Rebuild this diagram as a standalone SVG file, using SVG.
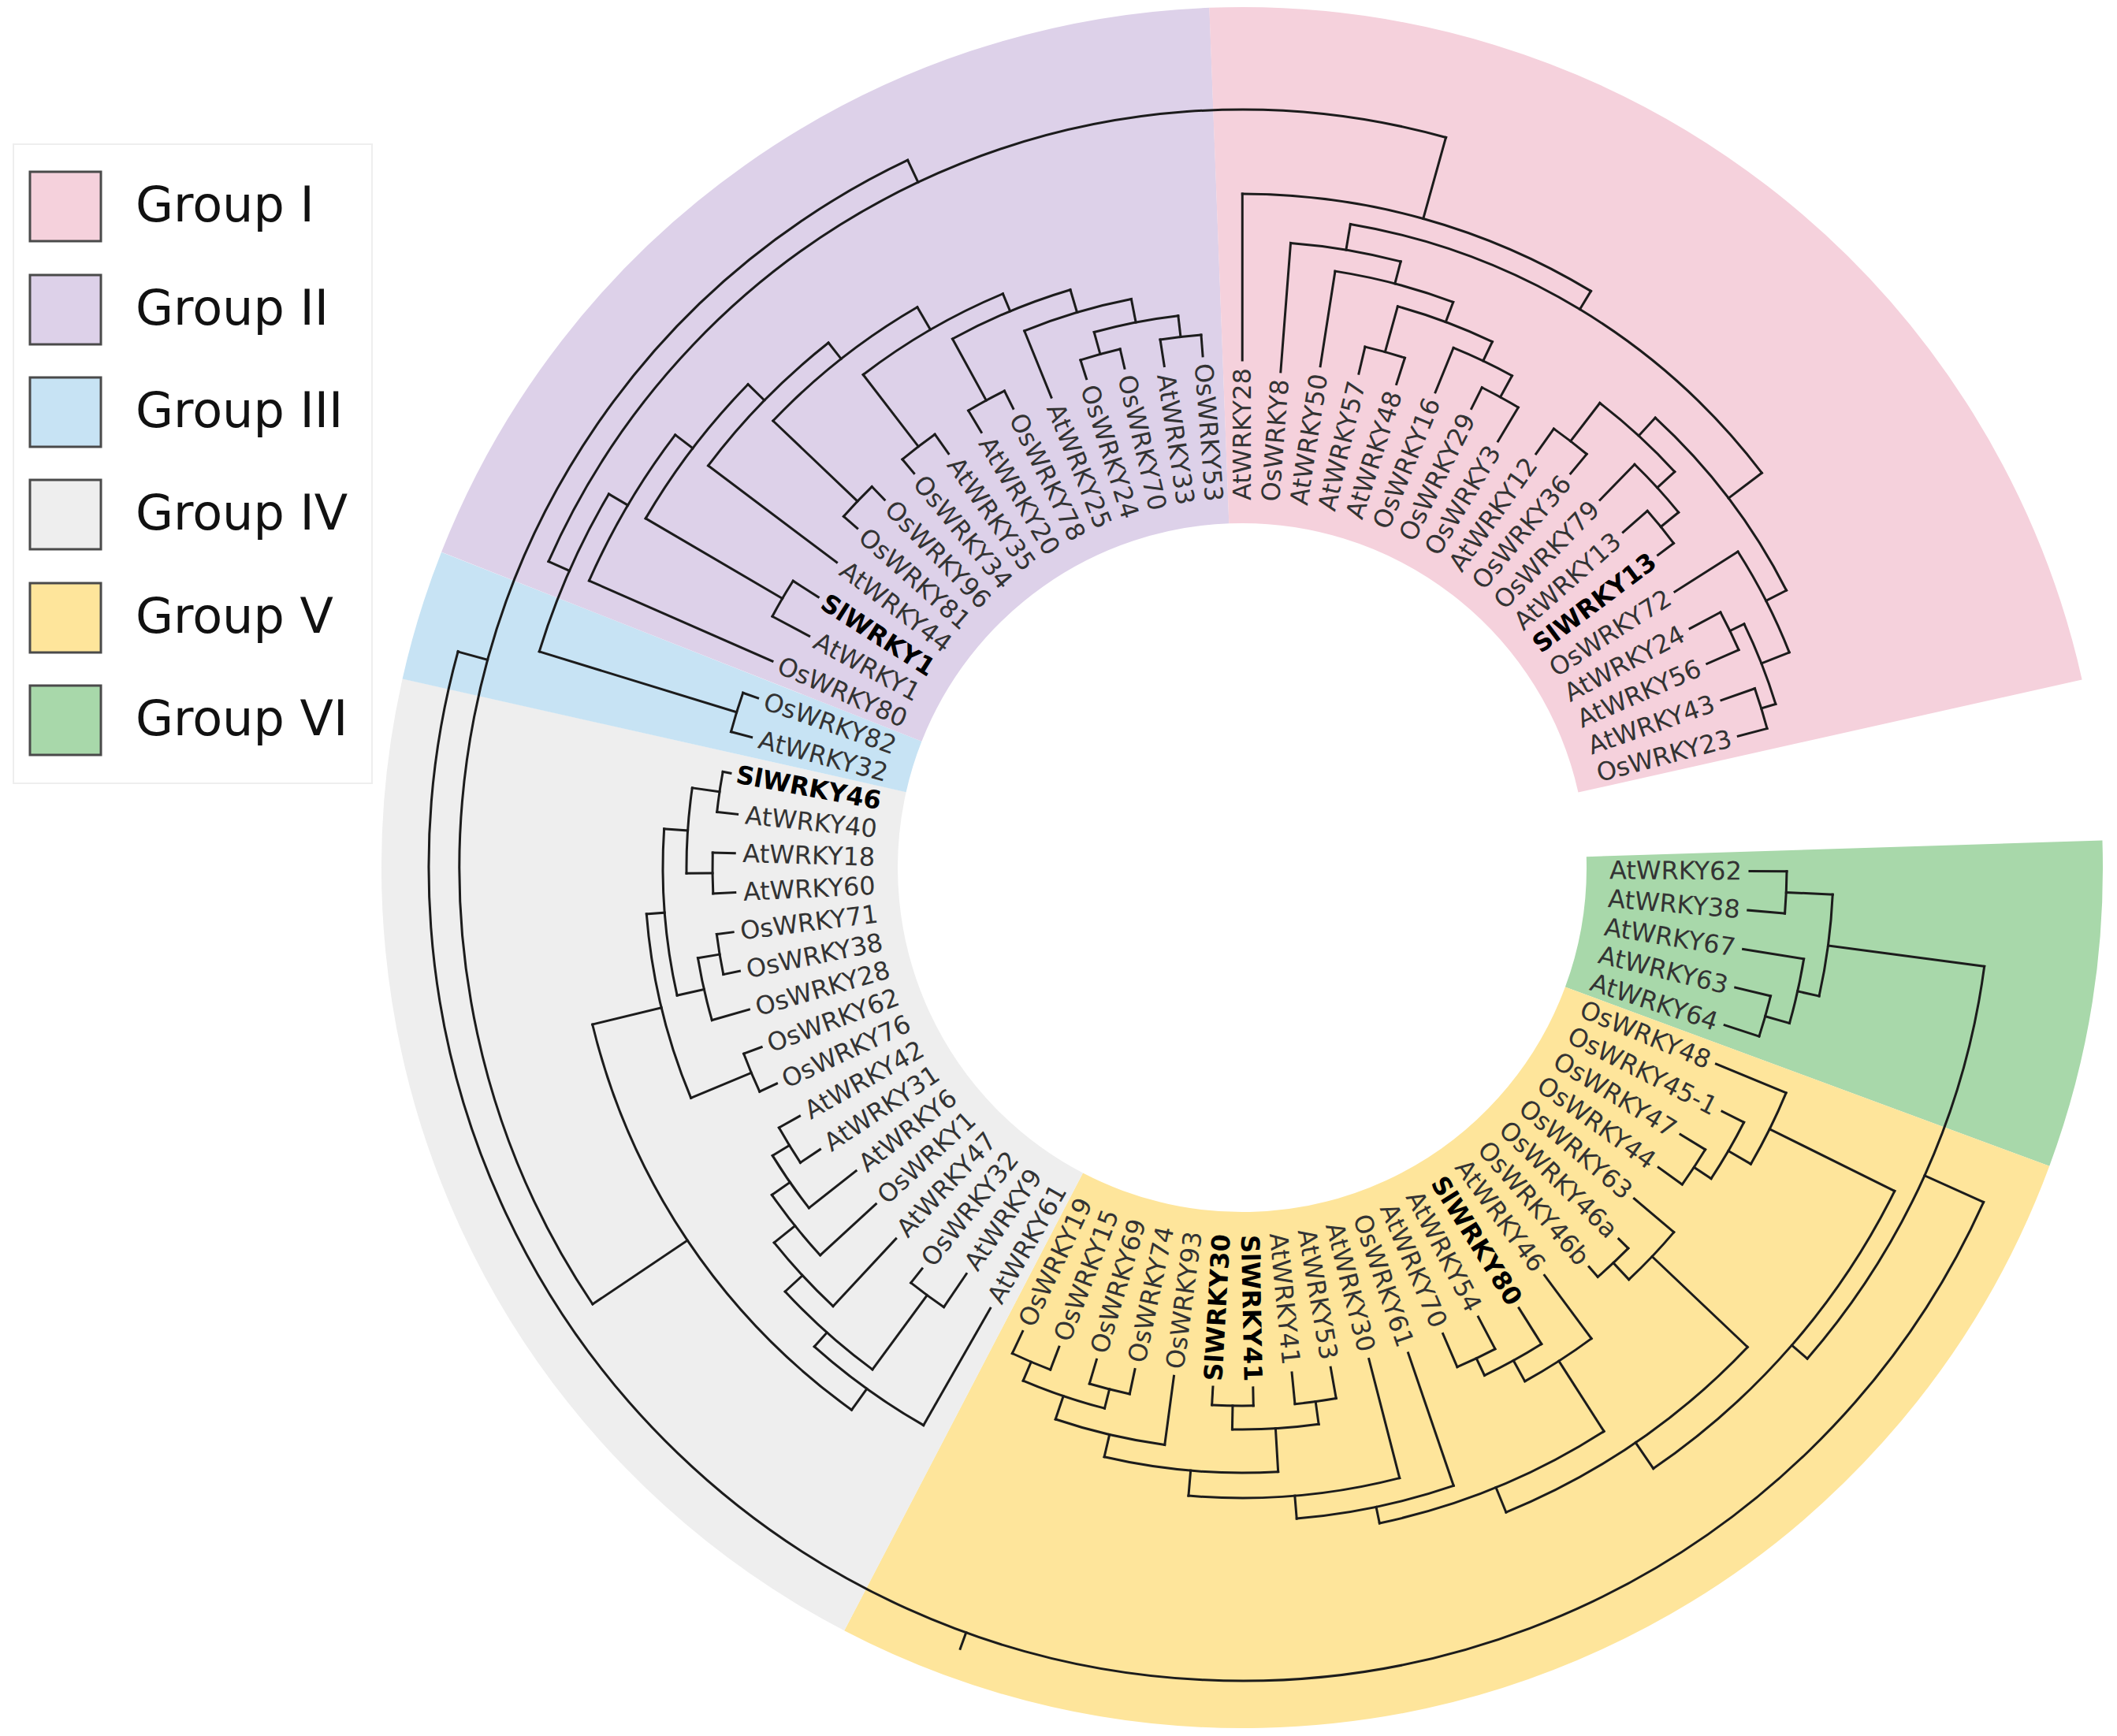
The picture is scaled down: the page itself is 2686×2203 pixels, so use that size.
<svg xmlns="http://www.w3.org/2000/svg" width="2686" height="2203" viewBox="0 0 2686 2203">
<style>
.lab text{font-family:"DejaVu Sans","Liberation Sans",sans-serif;font-size:32px;fill:#333;dominant-baseline:central}
.lab .f{text-anchor:end}
.lab .b{font-weight:bold;fill:#000}
.wedge circle{fill:none;stroke-width:655}
#connectors{fill:none;stroke:#1c1c1c;stroke-width:3;stroke-linecap:square}
.leg text{font-family:"DejaVu Sans","Liberation Sans",sans-serif;font-size:62px;fill:#111}
.leg rect.sw{stroke:#4a4a4a;stroke-width:3}
</style>
<rect width="2686" height="2203" fill="#fff"/>
<g class="wedge" id="groups" transform="translate(1576 1101)">
<circle r="764.5" stroke="#A8D8AA" transform="rotate(-1.81)" stroke-dasharray="294.88 9999"/>
<circle r="764.5" stroke="#FEE59B" transform="rotate(20.29)" stroke-dasharray="1297.48 9999"/>
<circle r="764.5" stroke="#EEEEEE" transform="rotate(117.53)" stroke-dasharray="1002.6 9999"/>
<circle r="764.5" stroke="#C7E3F4" transform="rotate(192.67)" stroke-dasharray="117.95 9999"/>
<circle r="764.5" stroke="#DDD1E9" transform="rotate(201.51)" stroke-dasharray="884.65 9999"/>
<circle r="764.5" stroke="#F5D1DC" transform="rotate(267.81)" stroke-dasharray="1061.58 9999"/>
</g>
<g id="connectors" transform="translate(1576 1101)">
<path transform="rotate(90.4)" d="M0-644V-691"/>
<path transform="rotate(94.82)" d="M0-644V-691"/>
<path transform="rotate(99.24)" d="M0-644V-722"/>
<path transform="rotate(103.66)" d="M0-644V-690"/>
<path transform="rotate(108.08)" d="M0-644V-690"/>
<path transform="rotate(112.5)" d="M0-651V-747"/>
<path transform="rotate(116.92)" d="M0-683V-714"/>
<path transform="rotate(121.34)" d="M0-651V-688"/>
<path transform="rotate(125.76)" d="M0-651V-688"/>
<path transform="rotate(130.18)" d="M0-651V-717"/>
<path transform="rotate(134.6)" d="M0-671V-688"/>
<path transform="rotate(139.02)" d="M0-671V-688"/>
<path transform="rotate(143.44)" d="M0-644V-744"/>
<path transform="rotate(147.86)" d="M0-660V-714"/>
<path transform="rotate(152.28)" d="M0-644V-690"/>
<path transform="rotate(156.7)" d="M0-644V-690"/>
<path transform="rotate(161.12)" d="M0-651V-829"/>
<path transform="rotate(165.54)" d="M0-644V-800"/>
<path transform="rotate(169.96)" d="M0-644V-684"/>
<path transform="rotate(174.38)" d="M0-644V-684"/>
<path transform="rotate(178.8)" d="M0-660V-683"/>
<path transform="rotate(183.22)" d="M0-660V-683"/>
<path transform="rotate(187.64)" d="M0-651V-739"/>
<path transform="rotate(192.06)" d="M0-651V-683"/>
<path transform="rotate(196.48)" d="M0-651V-683"/>
<path transform="rotate(200.9)" d="M0-651V-682"/>
<path transform="rotate(205.32)" d="M0-651V-682"/>
<path transform="rotate(209.74)" d="M0-644V-815"/>
<path transform="rotate(214.16)" d="M0-623V-674"/>
<path transform="rotate(218.58)" d="M0-651V-674"/>
<path transform="rotate(223)" d="M0-644V-761"/>
<path transform="rotate(227.42)" d="M0-631V-727"/>
<path transform="rotate(231.84)" d="M0-623V-699"/>
<path transform="rotate(236.26)" d="M0-644V-674"/>
<path transform="rotate(240.68)" d="M0-644V-674"/>
<path transform="rotate(245.1)" d="M0-651V-675"/>
<path transform="rotate(249.52)" d="M0-651V-675"/>
<path transform="rotate(253.94)" d="M0-651V-700"/>
<path transform="rotate(258.36)" d="M0-651V-672"/>
<path transform="rotate(262.78)" d="M0-651V-672"/>
<path transform="rotate(267.2)" d="M0-644V-672"/>
<path transform="rotate(271.62)" d="M0-644V-672"/>
<path transform="rotate(276.04)" d="M0-644V-670"/>
<path transform="rotate(280.46)" d="M0-660V-670"/>
<path transform="rotate(284.88)" d="M0-644V-671"/>
<path transform="rotate(289.3)" d="M0-651V-671"/>
<path transform="rotate(293.72)" d="M0-651V-905"/>
<path transform="rotate(298.14)" d="M0-623V-676"/>
<path transform="rotate(302.56)" d="M0-638V-676"/>
<path transform="rotate(306.98)" d="M0-644V-848"/>
<path transform="rotate(311.4)" d="M0-651V-674"/>
<path transform="rotate(315.82)" d="M0-651V-674"/>
<path transform="rotate(320.24)" d="M0-651V-674"/>
<path transform="rotate(324.66)" d="M0-644V-674"/>
<path transform="rotate(329.08)" d="M0-644V-676"/>
<path transform="rotate(333.5)" d="M0-651V-676"/>
<path transform="rotate(337.92)" d="M0-644V-735"/>
<path transform="rotate(342.34)" d="M0-651V-676"/>
<path transform="rotate(346.76)" d="M0-651V-676"/>
<path transform="rotate(351.18)" d="M0-644V-678"/>
<path transform="rotate(355.6)" d="M0-651V-678"/>
<path transform="rotate(0.02)" d="M0-644V-855"/>
<path transform="rotate(4.44)" d="M0-631V-795"/>
<path transform="rotate(8.86)" d="M0-644V-766"/>
<path transform="rotate(13.28)" d="M0-644V-679"/>
<path transform="rotate(17.7)" d="M0-644V-679"/>
<path transform="rotate(22.12)" d="M0-651V-712"/>
<path transform="rotate(26.54)" d="M0-651V-681"/>
<path transform="rotate(30.96)" d="M0-631V-681"/>
<path transform="rotate(35.38)" d="M0-644V-683"/>
<path transform="rotate(39.8)" d="M0-651V-683"/>
<path transform="rotate(44.22)" d="M0-651V-714"/>
<path transform="rotate(48.64)" d="M0-644V-685"/>
<path transform="rotate(53.06)" d="M0-660V-685"/>
<path transform="rotate(57.48)" d="M0-651V-746"/>
<path transform="rotate(61.9)" d="M0-644V-688"/>
<path transform="rotate(66.32)" d="M0-644V-688"/>
<path transform="rotate(70.74)" d="M0-644V-689"/>
<path transform="rotate(75.16)" d="M0-651V-689"/>
<circle r="691" transform="rotate(0.4)" stroke-dasharray="53.31 9999"/>
<circle r="690" transform="rotate(13.66)" stroke-dasharray="53.23 9999"/>
<circle r="722" transform="rotate(9.24)" stroke-dasharray="83.55 9999"/>
<circle r="750" transform="rotate(2.61)" stroke-dasharray="130.18 9999"/>
<path transform="rotate(92.61)" d="M0-691V-750"/>
<path transform="rotate(105.87)" d="M0-690V-722"/>
<path transform="rotate(102.555)" d="M0-722V-750"/>
<path transform="rotate(97.58)" d="M0-750V-950"/>
<circle r="688" transform="rotate(31.34)" stroke-dasharray="53.08 9999"/>
<circle r="714" transform="rotate(26.92)" stroke-dasharray="82.62 9999"/>
<circle r="747" transform="rotate(22.5)" stroke-dasharray="100.85 9999"/>
<circle r="688" transform="rotate(44.6)" stroke-dasharray="53.08 9999"/>
<circle r="717" transform="rotate(40.18)" stroke-dasharray="82.97 9999"/>
<circle r="690" transform="rotate(62.28)" stroke-dasharray="53.23 9999"/>
<circle r="714" transform="rotate(57.86)" stroke-dasharray="82.62 9999"/>
<circle r="744" transform="rotate(53.44)" stroke-dasharray="100.44 9999"/>
<circle r="683" transform="rotate(88.8)" stroke-dasharray="52.69 9999"/>
<circle r="684" transform="rotate(79.96)" stroke-dasharray="52.77 9999"/>
<circle r="713" transform="rotate(82.17)" stroke-dasharray="110.01 9999"/>
<circle r="682" transform="rotate(110.9)" stroke-dasharray="52.61 9999"/>
<circle r="683" transform="rotate(102.06)" stroke-dasharray="52.69 9999"/>
<circle r="708" transform="rotate(104.27)" stroke-dasharray="109.24 9999"/>
<circle r="739" transform="rotate(97.64)" stroke-dasharray="142.52 9999"/>
<circle r="768" transform="rotate(86.59)" stroke-dasharray="222.17 9999"/>
<circle r="800" transform="rotate(75.54)" stroke-dasharray="270.04 9999"/>
<circle r="829" transform="rotate(71.12)" stroke-dasharray="203.86 9999"/>
<circle r="850" transform="rotate(57.31)" stroke-dasharray="309.39 9999"/>
<circle r="884" transform="rotate(43.495)" stroke-dasharray="374.07 9999"/>
<circle r="924" transform="rotate(26.37)" stroke-dasharray="471.71 9999"/>
<circle r="950" transform="rotate(7.58)" stroke-dasharray="554.04 9999"/>
<path transform="rotate(123.55)" d="M0-688V-714"/>
<path transform="rotate(120.235)" d="M0-714V-747"/>
<path transform="rotate(116.37)" d="M0-747V-924"/>
<path transform="rotate(136.81)" d="M0-688V-717"/>
<path transform="rotate(133.495)" d="M0-717V-884"/>
<path transform="rotate(154.49)" d="M0-690V-714"/>
<path transform="rotate(151.175)" d="M0-714V-744"/>
<path transform="rotate(147.31)" d="M0-744V-850"/>
<path transform="rotate(181.01)" d="M0-683V-713"/>
<path transform="rotate(172.17)" d="M0-684V-713"/>
<path transform="rotate(176.59)" d="M0-713V-768"/>
<path transform="rotate(203.11)" d="M0-682V-708"/>
<path transform="rotate(194.27)" d="M0-683V-708"/>
<path transform="rotate(198.69)" d="M0-708V-739"/>
<path transform="rotate(193.165)" d="M0-739V-768"/>
<path transform="rotate(184.88)" d="M0-768V-800"/>
<path transform="rotate(175.21)" d="M0-800V-829"/>
<path transform="rotate(168.165)" d="M0-829V-850"/>
<path transform="rotate(157.74)" d="M0-850V-884"/>
<path transform="rotate(145.62)" d="M0-884V-924"/>
<path transform="rotate(130.995)" d="M0-924V-950"/>
<path transform="rotate(114.29)" d="M0-950V-1032"/>
<circle r="670" transform="rotate(186.04)" stroke-dasharray="51.69 9999"/>
<circle r="672" transform="rotate(177.2)" stroke-dasharray="51.84 9999"/>
<circle r="705" transform="rotate(179.41)" stroke-dasharray="108.77 9999"/>
<circle r="672" transform="rotate(168.36)" stroke-dasharray="51.84 9999"/>
<circle r="700" transform="rotate(163.94)" stroke-dasharray="81 9999"/>
<circle r="735" transform="rotate(167.255)" stroke-dasharray="212.63 9999"/>
<circle r="675" transform="rotate(155.1)" stroke-dasharray="52.07 9999"/>
<circle r="758" transform="rotate(157.31)" stroke-dasharray="241.18 9999"/>
<circle r="674" transform="rotate(146.26)" stroke-dasharray="51.99 9999"/>
<circle r="699" transform="rotate(141.84)" stroke-dasharray="80.88 9999"/>
<circle r="727" transform="rotate(137.42)" stroke-dasharray="98.15 9999"/>
<circle r="761" transform="rotate(133)" stroke-dasharray="110.11 9999"/>
<circle r="674" transform="rotate(124.16)" stroke-dasharray="51.99 9999"/>
<circle r="791" transform="rotate(126.37)" stroke-dasharray="148.75 9999"/>
<circle r="815" transform="rotate(119.74)" stroke-dasharray="170.98 9999"/>
<circle r="848" transform="rotate(125.75)" stroke-dasharray="602.01 9999"/>
<path transform="rotate(278.25)" d="M0-670V-705"/>
<path transform="rotate(269.41)" d="M0-672V-705"/>
<path transform="rotate(273.83)" d="M0-705V-735"/>
<path transform="rotate(260.57)" d="M0-672V-700"/>
<path transform="rotate(257.255)" d="M0-700V-735"/>
<path transform="rotate(265.54)" d="M0-735V-758"/>
<path transform="rotate(247.31)" d="M0-675V-758"/>
<path transform="rotate(256.425)" d="M0-758V-848"/>
<path transform="rotate(238.47)" d="M0-674V-699"/>
<path transform="rotate(235.155)" d="M0-699V-727"/>
<path transform="rotate(231.29)" d="M0-727V-761"/>
<path transform="rotate(227.145)" d="M0-761V-791"/>
<path transform="rotate(216.37)" d="M0-674V-791"/>
<path transform="rotate(221.76)" d="M0-791V-815"/>
<path transform="rotate(215.75)" d="M0-815V-848"/>
<path transform="rotate(236.09)" d="M0-848V-993"/>
<circle r="671" transform="rotate(194.88)" stroke-dasharray="51.76 9999"/>
<path transform="rotate(287.09)" d="M0-671V-933"/>
<circle r="676" transform="rotate(208.14)" stroke-dasharray="52.15 9999"/>
<circle r="674" transform="rotate(221.4)" stroke-dasharray="51.99 9999"/>
<circle r="674" transform="rotate(230.24)" stroke-dasharray="51.99 9999"/>
<circle r="676" transform="rotate(239.08)" stroke-dasharray="52.15 9999"/>
<circle r="676" transform="rotate(252.34)" stroke-dasharray="52.15 9999"/>
<circle r="678" transform="rotate(261.18)" stroke-dasharray="52.3 9999"/>
<circle r="705" transform="rotate(254.55)" stroke-dasharray="108.77 9999"/>
<circle r="735" transform="rotate(247.92)" stroke-dasharray="141.75 9999"/>
<circle r="765" transform="rotate(241.29)" stroke-dasharray="162.29 9999"/>
<circle r="789" transform="rotate(232.45)" stroke-dasharray="205.46 9999"/>
<circle r="822" transform="rotate(223.61)" stroke-dasharray="233.85 9999"/>
<circle r="848" transform="rotate(216.98)" stroke-dasharray="218.75 9999"/>
<circle r="877" transform="rotate(210.35)" stroke-dasharray="214.6 9999"/>
<circle r="905" transform="rotate(203.72)" stroke-dasharray="215.45 9999"/>
<circle r="933" transform="rotate(197.09)" stroke-dasharray="219.02 9999"/>
<path transform="rotate(300.35)" d="M0-676V-877"/>
<path transform="rotate(313.61)" d="M0-674V-822"/>
<path transform="rotate(322.45)" d="M0-674V-789"/>
<path transform="rotate(331.29)" d="M0-676V-765"/>
<path transform="rotate(344.55)" d="M0-676V-705"/>
<path transform="rotate(353.39)" d="M0-678V-705"/>
<path transform="rotate(348.97)" d="M0-705V-735"/>
<path transform="rotate(343.445)" d="M0-735V-765"/>
<path transform="rotate(337.37)" d="M0-765V-789"/>
<path transform="rotate(329.91)" d="M0-789V-822"/>
<path transform="rotate(321.76)" d="M0-822V-848"/>
<path transform="rotate(314.37)" d="M0-848V-877"/>
<path transform="rotate(307.36)" d="M0-877V-905"/>
<path transform="rotate(300.54)" d="M0-905V-933"/>
<path transform="rotate(293.815)" d="M0-933V-962"/>
<circle r="679" transform="rotate(-76.72)" stroke-dasharray="52.38 9999"/>
<circle r="681" transform="rotate(-63.46)" stroke-dasharray="52.54 9999"/>
<circle r="712" transform="rotate(-67.88)" stroke-dasharray="82.39 9999"/>
<circle r="739" transform="rotate(-74.51)" stroke-dasharray="128.27 9999"/>
<circle r="766" transform="rotate(-81.14)" stroke-dasharray="155.08 9999"/>
<circle r="795" transform="rotate(-85.56)" stroke-dasharray="141.81 9999"/>
<circle r="683" transform="rotate(-54.62)" stroke-dasharray="52.69 9999"/>
<circle r="685" transform="rotate(-41.36)" stroke-dasharray="52.84 9999"/>
<circle r="714" transform="rotate(-45.78)" stroke-dasharray="82.62 9999"/>
<circle r="744" transform="rotate(-52.41)" stroke-dasharray="129.14 9999"/>
<circle r="688" transform="rotate(-28.1)" stroke-dasharray="53.08 9999"/>
<circle r="689" transform="rotate(-19.26)" stroke-dasharray="53.15 9999"/>
<circle r="708" transform="rotate(-25.89)" stroke-dasharray="109.24 9999"/>
<circle r="746" transform="rotate(-32.52)" stroke-dasharray="143.87 9999"/>
<circle r="775" transform="rotate(-47.44)" stroke-dasharray="276.55 9999"/>
<circle r="828" transform="rotate(-80.45)" stroke-dasharray="624.73 9999"/>
<circle r="855" transform="rotate(-89.98)" stroke-dasharray="464.76 9999"/>
<path transform="rotate(15.49)" d="M0-679V-739"/>
<path transform="rotate(28.75)" d="M0-681V-712"/>
<path transform="rotate(25.435)" d="M0-712V-739"/>
<path transform="rotate(20.46)" d="M0-739V-766"/>
<path transform="rotate(14.66)" d="M0-766V-795"/>
<path transform="rotate(9.55)" d="M0-795V-828"/>
<path transform="rotate(37.59)" d="M0-683V-744"/>
<path transform="rotate(50.85)" d="M0-685V-714"/>
<path transform="rotate(47.535)" d="M0-714V-744"/>
<path transform="rotate(42.56)" d="M0-744V-775"/>
<path transform="rotate(64.11)" d="M0-688V-708"/>
<path transform="rotate(72.95)" d="M0-689V-708"/>
<path transform="rotate(68.53)" d="M0-708V-746"/>
<path transform="rotate(63.005)" d="M0-746V-775"/>
<path transform="rotate(52.78)" d="M0-775V-828"/>
<path transform="rotate(31.165)" d="M0-828V-855"/>
<path transform="rotate(15.59)" d="M0-855V-962"/>
<circle r="962" transform="rotate(203.815)" stroke-dasharray="1373.01 9999"/>
<path transform="rotate(334.7)" d="M0-962V-993"/>
<circle r="993" transform="rotate(146.09)" stroke-dasharray="1709.02 9999"/>
<path transform="rotate(285.395)" d="M0-993V-1032"/>
<circle r="1032" transform="rotate(24.29)" stroke-dasharray="3081.91 9999"/>
<path transform="rotate(199.84)" d="M0-1032V-1054"/>
</g>
<g class="lab" transform="translate(1576 1101)">
<g id="n-AtWRKY62" transform="rotate(90.4)"><text x="466" transform="rotate(-90)">AtWRKY62</text></g>
<g id="n-AtWRKY38" transform="rotate(94.82)"><text x="466" transform="rotate(-90)">AtWRKY38</text></g>
<g id="n-AtWRKY67" transform="rotate(99.24)"><text x="466" transform="rotate(-90)">AtWRKY67</text></g>
<g id="n-AtWRKY63" transform="rotate(103.66)"><text x="466" transform="rotate(-90)">AtWRKY63</text></g>
<g id="n-AtWRKY64" transform="rotate(108.08)"><text x="466" transform="rotate(-90)">AtWRKY64</text></g>
<g id="n-OsWRKY48" transform="rotate(112.5)"><text x="466" transform="rotate(-90)">OsWRKY48</text></g>
<g id="n-OsWRKY45-1" transform="rotate(116.92)"><text x="466" transform="rotate(-90)">OsWRKY45-1</text></g>
<g id="n-OsWRKY47" transform="rotate(121.34)"><text x="466" transform="rotate(-90)">OsWRKY47</text></g>
<g id="n-OsWRKY44" transform="rotate(125.76)"><text x="466" transform="rotate(-90)">OsWRKY44</text></g>
<g id="n-OsWRKY63" transform="rotate(130.18)"><text x="466" transform="rotate(-90)">OsWRKY63</text></g>
<g id="n-OsWRKY46a" transform="rotate(134.6)"><text x="466" transform="rotate(-90)">OsWRKY46a</text></g>
<g id="n-OsWRKY46b" transform="rotate(139.02)"><text x="466" transform="rotate(-90)">OsWRKY46b</text></g>
<g id="n-AtWRKY46" transform="rotate(143.44)"><text x="466" transform="rotate(-90)">AtWRKY46</text></g>
<g id="n-SlWRKY80" transform="rotate(147.86)"><text class="b" x="466" transform="rotate(-90)">SlWRKY80</text></g>
<g id="n-AtWRKY54" transform="rotate(152.28)"><text x="466" transform="rotate(-90)">AtWRKY54</text></g>
<g id="n-AtWRKY70" transform="rotate(156.7)"><text x="466" transform="rotate(-90)">AtWRKY70</text></g>
<g id="n-OsWRKY61" transform="rotate(161.12)"><text x="466" transform="rotate(-90)">OsWRKY61</text></g>
<g id="n-AtWRKY30" transform="rotate(165.54)"><text x="466" transform="rotate(-90)">AtWRKY30</text></g>
<g id="n-AtWRKY53" transform="rotate(169.96)"><text x="466" transform="rotate(-90)">AtWRKY53</text></g>
<g id="n-AtWRKY41" transform="rotate(174.38)"><text x="466" transform="rotate(-90)">AtWRKY41</text></g>
<g id="n-SlWRKY41" transform="rotate(178.8)"><text class="b" x="466" transform="rotate(-90)">SlWRKY41</text></g>
<g id="n-SlWRKY30" transform="rotate(183.22)"><text class="b f" x="-466" transform="rotate(90)">SlWRKY30</text></g>
<g id="n-OsWRKY93" transform="rotate(187.64)"><text class="f" x="-466" transform="rotate(90)">OsWRKY93</text></g>
<g id="n-OsWRKY74" transform="rotate(192.06)"><text class="f" x="-466" transform="rotate(90)">OsWRKY74</text></g>
<g id="n-OsWRKY69" transform="rotate(196.48)"><text class="f" x="-466" transform="rotate(90)">OsWRKY69</text></g>
<g id="n-OsWRKY15" transform="rotate(200.9)"><text class="f" x="-466" transform="rotate(90)">OsWRKY15</text></g>
<g id="n-OsWRKY19" transform="rotate(205.32)"><text class="f" x="-466" transform="rotate(90)">OsWRKY19</text></g>
<g id="n-AtWRKY61" transform="rotate(209.74)"><text class="f" x="-466" transform="rotate(90)">AtWRKY61</text></g>
<g id="n-AtWRKY9" transform="rotate(214.16)"><text class="f" x="-466" transform="rotate(90)">AtWRKY9</text></g>
<g id="n-OsWRKY32" transform="rotate(218.58)"><text class="f" x="-466" transform="rotate(90)">OsWRKY32</text></g>
<g id="n-AtWRKY47" transform="rotate(223)"><text class="f" x="-466" transform="rotate(90)">AtWRKY47</text></g>
<g id="n-OsWRKY1" transform="rotate(227.42)"><text class="f" x="-466" transform="rotate(90)">OsWRKY1</text></g>
<g id="n-AtWRKY6" transform="rotate(231.84)"><text class="f" x="-466" transform="rotate(90)">AtWRKY6</text></g>
<g id="n-AtWRKY31" transform="rotate(236.26)"><text class="f" x="-466" transform="rotate(90)">AtWRKY31</text></g>
<g id="n-AtWRKY42" transform="rotate(240.68)"><text class="f" x="-466" transform="rotate(90)">AtWRKY42</text></g>
<g id="n-OsWRKY76" transform="rotate(245.1)"><text class="f" x="-466" transform="rotate(90)">OsWRKY76</text></g>
<g id="n-OsWRKY62" transform="rotate(249.52)"><text class="f" x="-466" transform="rotate(90)">OsWRKY62</text></g>
<g id="n-OsWRKY28" transform="rotate(253.94)"><text class="f" x="-466" transform="rotate(90)">OsWRKY28</text></g>
<g id="n-OsWRKY38" transform="rotate(258.36)"><text class="f" x="-466" transform="rotate(90)">OsWRKY38</text></g>
<g id="n-OsWRKY71" transform="rotate(262.78)"><text class="f" x="-466" transform="rotate(90)">OsWRKY71</text></g>
<g id="n-AtWRKY60" transform="rotate(267.2)"><text class="f" x="-466" transform="rotate(90)">AtWRKY60</text></g>
<g id="n-AtWRKY18" transform="rotate(271.62)"><text class="f" x="-466" transform="rotate(90)">AtWRKY18</text></g>
<g id="n-AtWRKY40" transform="rotate(276.04)"><text class="f" x="-466" transform="rotate(90)">AtWRKY40</text></g>
<g id="n-SlWRKY46" transform="rotate(280.46)"><text class="b f" x="-466" transform="rotate(90)">SlWRKY46</text></g>
<g id="n-AtWRKY32" transform="rotate(284.88)"><text class="f" x="-466" transform="rotate(90)">AtWRKY32</text></g>
<g id="n-OsWRKY82" transform="rotate(289.3)"><text class="f" x="-466" transform="rotate(90)">OsWRKY82</text></g>
<g id="n-OsWRKY80" transform="rotate(293.72)"><text class="f" x="-466" transform="rotate(90)">OsWRKY80</text></g>
<g id="n-AtWRKY1" transform="rotate(298.14)"><text class="f" x="-466" transform="rotate(90)">AtWRKY1</text></g>
<g id="n-SlWRKY1" transform="rotate(302.56)"><text class="b f" x="-466" transform="rotate(90)">SlWRKY1</text></g>
<g id="n-AtWRKY44" transform="rotate(306.98)"><text class="f" x="-466" transform="rotate(90)">AtWRKY44</text></g>
<g id="n-OsWRKY81" transform="rotate(311.4)"><text class="f" x="-466" transform="rotate(90)">OsWRKY81</text></g>
<g id="n-OsWRKY96" transform="rotate(315.82)"><text class="f" x="-466" transform="rotate(90)">OsWRKY96</text></g>
<g id="n-OsWRKY34" transform="rotate(320.24)"><text class="f" x="-466" transform="rotate(90)">OsWRKY34</text></g>
<g id="n-AtWRKY35" transform="rotate(324.66)"><text class="f" x="-466" transform="rotate(90)">AtWRKY35</text></g>
<g id="n-AtWRKY20" transform="rotate(329.08)"><text class="f" x="-466" transform="rotate(90)">AtWRKY20</text></g>
<g id="n-OsWRKY78" transform="rotate(333.5)"><text class="f" x="-466" transform="rotate(90)">OsWRKY78</text></g>
<g id="n-AtWRKY25" transform="rotate(337.92)"><text class="f" x="-466" transform="rotate(90)">AtWRKY25</text></g>
<g id="n-OsWRKY24" transform="rotate(342.34)"><text class="f" x="-466" transform="rotate(90)">OsWRKY24</text></g>
<g id="n-OsWRKY70" transform="rotate(346.76)"><text class="f" x="-466" transform="rotate(90)">OsWRKY70</text></g>
<g id="n-AtWRKY33" transform="rotate(351.18)"><text class="f" x="-466" transform="rotate(90)">AtWRKY33</text></g>
<g id="n-OsWRKY53" transform="rotate(355.6)"><text class="f" x="-466" transform="rotate(90)">OsWRKY53</text></g>
<g id="n-AtWRKY28" transform="rotate(0.02)"><text x="466" transform="rotate(-90)">AtWRKY28</text></g>
<g id="n-OsWRKY8" transform="rotate(4.44)"><text x="466" transform="rotate(-90)">OsWRKY8</text></g>
<g id="n-AtWRKY50" transform="rotate(8.86)"><text x="466" transform="rotate(-90)">AtWRKY50</text></g>
<g id="n-AtWRKY57" transform="rotate(13.28)"><text x="466" transform="rotate(-90)">AtWRKY57</text></g>
<g id="n-AtWRKY48" transform="rotate(17.7)"><text x="466" transform="rotate(-90)">AtWRKY48</text></g>
<g id="n-OsWRKY16" transform="rotate(22.12)"><text x="466" transform="rotate(-90)">OsWRKY16</text></g>
<g id="n-OsWRKY29" transform="rotate(26.54)"><text x="466" transform="rotate(-90)">OsWRKY29</text></g>
<g id="n-OsWRKY3" transform="rotate(30.96)"><text x="466" transform="rotate(-90)">OsWRKY3</text></g>
<g id="n-AtWRKY12" transform="rotate(35.38)"><text x="466" transform="rotate(-90)">AtWRKY12</text></g>
<g id="n-OsWRKY36" transform="rotate(39.8)"><text x="466" transform="rotate(-90)">OsWRKY36</text></g>
<g id="n-OsWRKY79" transform="rotate(44.22)"><text x="466" transform="rotate(-90)">OsWRKY79</text></g>
<g id="n-AtWRKY13" transform="rotate(48.64)"><text x="466" transform="rotate(-90)">AtWRKY13</text></g>
<g id="n-SlWRKY13" transform="rotate(53.06)"><text class="b" x="466" transform="rotate(-90)">SlWRKY13</text></g>
<g id="n-OsWRKY72" transform="rotate(57.48)"><text x="466" transform="rotate(-90)">OsWRKY72</text></g>
<g id="n-AtWRKY24" transform="rotate(61.9)"><text x="466" transform="rotate(-90)">AtWRKY24</text></g>
<g id="n-AtWRKY56" transform="rotate(66.32)"><text x="466" transform="rotate(-90)">AtWRKY56</text></g>
<g id="n-AtWRKY43" transform="rotate(70.74)"><text x="466" transform="rotate(-90)">AtWRKY43</text></g>
<g id="n-OsWRKY23" transform="rotate(75.16)"><text x="466" transform="rotate(-90)">OsWRKY23</text></g>
</g>
<g class="leg" id="legend">
<rect x="17" y="183" width="455" height="811" fill="#fff" stroke="#eeeeee" stroke-width="2"/>
<g id="leg-I"><rect class="sw" x="38" y="218" width="90" height="88" fill="#F5D1DC"/><text x="172" y="281">Group I</text></g>
<g id="leg-II"><rect class="sw" x="38" y="349" width="90" height="88" fill="#DDD1E9"/><text x="172" y="412">Group II</text></g>
<g id="leg-III"><rect class="sw" x="38" y="479" width="90" height="88" fill="#C7E3F4"/><text x="172" y="542">Group III</text></g>
<g id="leg-IV"><rect class="sw" x="38" y="609" width="90" height="88" fill="#EEEEEE"/><text x="172" y="672">Group IV</text></g>
<g id="leg-V"><rect class="sw" x="38" y="740" width="90" height="88" fill="#FEE59B"/><text x="172" y="803">Group V</text></g>
<g id="leg-VI"><rect class="sw" x="38" y="870" width="90" height="88" fill="#A8D8AA"/><text x="172" y="933">Group VI</text></g>
</g>
</svg>
